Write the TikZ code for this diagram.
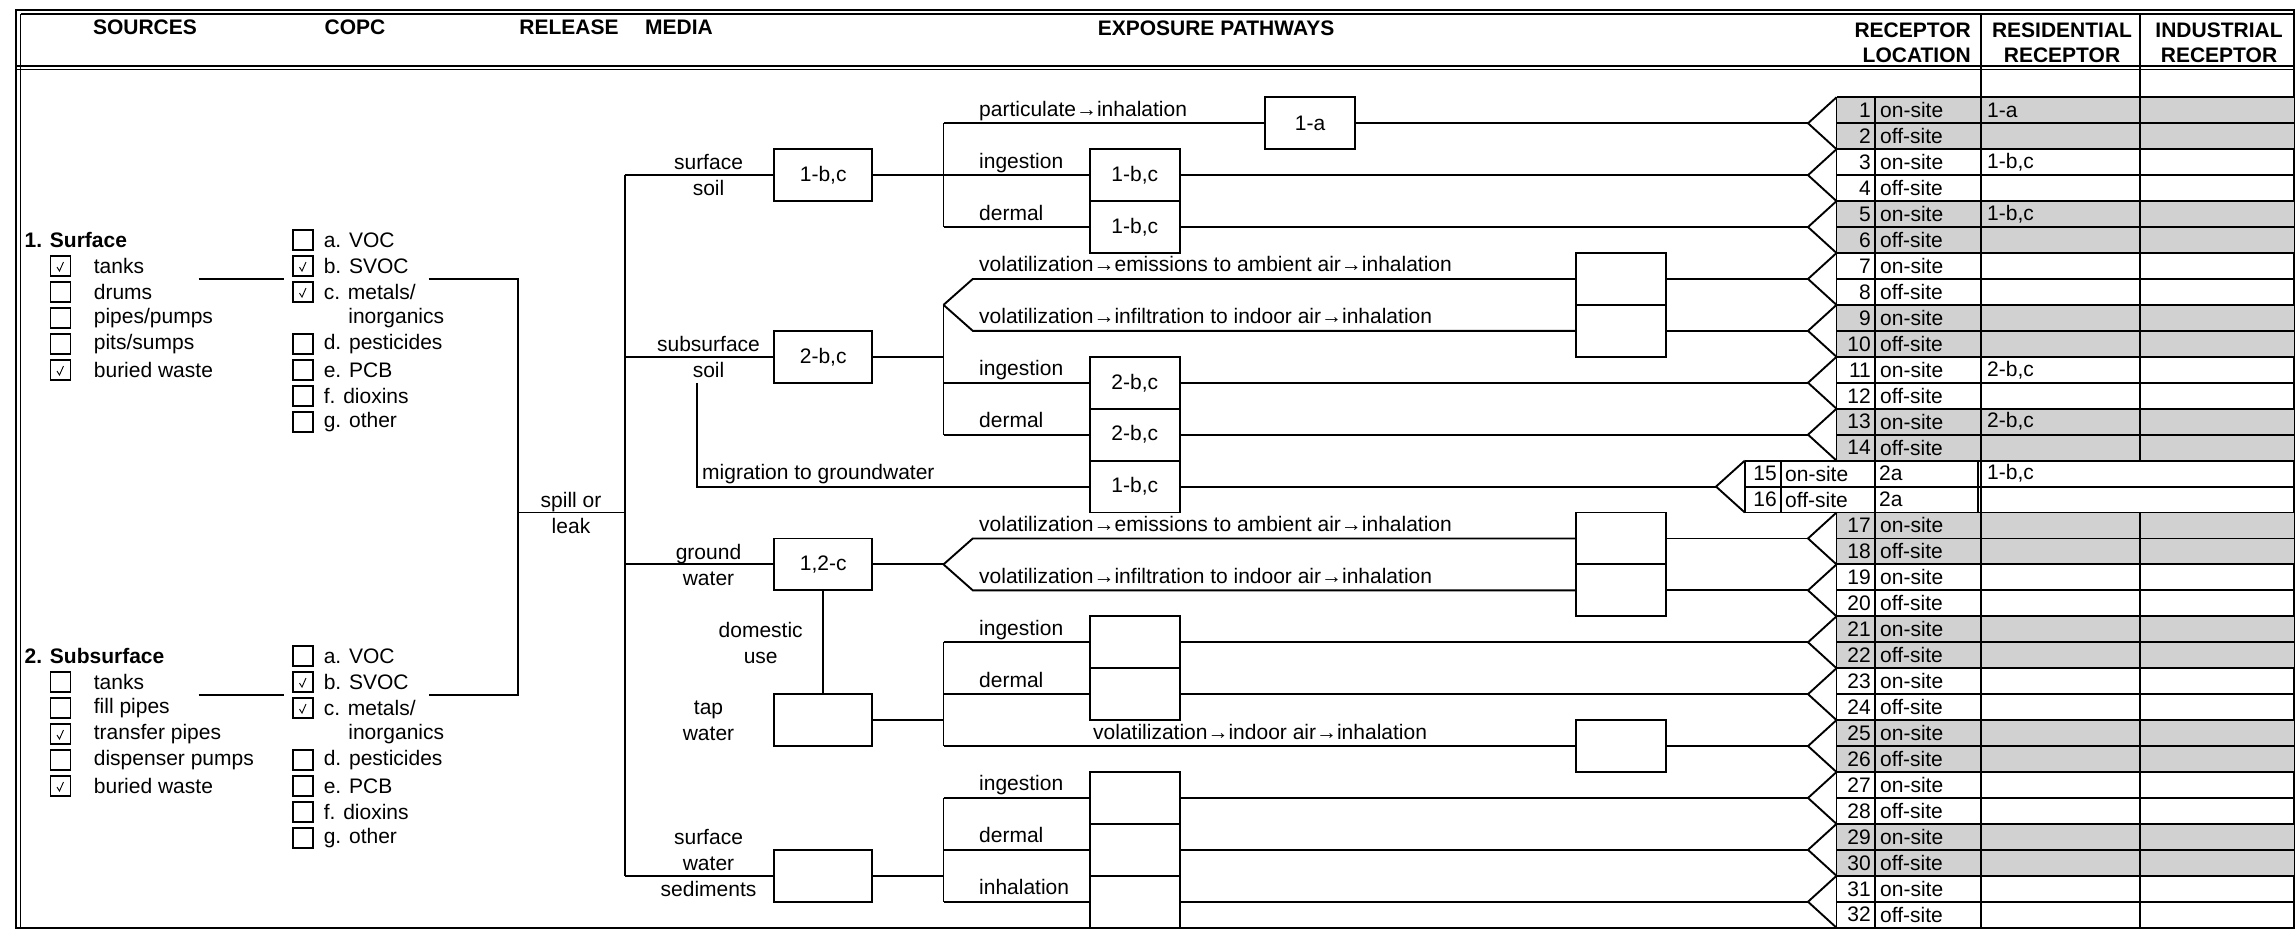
\documentclass[tikz,border=0pt]{standalone}
\usepackage{fontspec}
\setmainfont{Liberation Sans}
\usepackage{tikz}

\begin{document}
\begin{tikzpicture}[x=1pt, y=-1pt,
    font=\fontsize{21}{26}\selectfont,
    ln/.style={line width=1.9pt},
    frm/.style={line width=2pt},
    mbox/.style={draw, line width=1.9pt, minimum width=98pt, minimum height=51.9pt, inner sep=0pt},
    ebox/.style={draw, line width=1.9pt, minimum width=90pt, minimum height=51.9pt, inner sep=0pt},
    chk/.style={draw, line width=1.1pt, minimum size=20pt, inner sep=0pt},
    tick/.style={line width=0.9pt},
    txt/.style={inner sep=0pt, anchor=west},
    lbl/.style={inner sep=0pt, anchor=base west},
    mlbl/.style={inner sep=0pt, align=center},
    hdr/.style={font=\fontsize{21}{25}\selectfont\bfseries, inner sep=0pt, align=center}]

    % Высота строки и верх таблицы
    \def\rh{25.95}
    \def\tz{97.3}
    \def\yend{927.7}

    \useasboundingbox (0,0) rectangle (2296,930);

    % Рамка
    \draw[frm] (15.5,10) rectangle (2294,\yend);
    \draw[line width=1.1pt] (20.5,14) -- (2294,14);
    \draw[line width=1.1pt] (20.5,14) -- (20.5,\yend);
    \draw[frm] (15.5,65.5) -- (2294,65.5);
    \draw[line width=1.1pt] (15.5,69.5) -- (2294,69.5);

    % Заголовки
    \node[hdr] (hsrc) at (145,27) {SOURCES};
    \node[hdr] (hcopc) at (355,27) {COPC};
    \node[hdr] (hrel) at (569,27) {RELEASE};
    \node[hdr] (hmed) at (679,27) {MEDIA};
    \node[hdr] (hexp) at (1216,28) {EXPOSURE PATHWAYS};
    \node[hdr, align=right, anchor=east] (hloc) at (1971,42.5) {RECEPTOR\\LOCATION};
    \node[hdr] (hres) at (2062,42.5) {RESIDENTIAL\\RECEPTOR};
    \node[hdr] (hind) at (2219,42.5) {INDUSTRIAL\\RECEPTOR};

    % Серые строки
    \foreach \k in {1,3,...,15} {
        \pgfmathsetmacro\ya{\tz+(2*\k-2)*\rh}
        \pgfmathsetmacro\yb{\ya+2*\rh}
        \fill[black!18] (1836.5,\ya) rectangle (2294,\yb);
    }

    % Горизонтали таблицы
    \foreach \i in {0,...,32} {
        \pgfmathsetmacro\yy{\tz+\i*\rh}
        \coordinate (h\i) at (1836.5,\yy);
        \ifnum\i<14\relax
            \draw[ln] (1836.5,\yy) -- (2294,\yy);
        \else\ifnum\i<17\relax
            \draw[ln] (1744.8,\yy) -- (2294,\yy);
        \else\ifnum\i<32\relax
            \draw[ln] (1836.5,\yy) -- (2294,\yy);
        \fi\fi\fi
    }

    % Вертикали таблицы
    \draw[ln] (1836.5,\tz) -- (h14) (h16) -- (1836.5,\yend);
    \draw[ln] (1874.8,\tz) -- (1874.8,\yend);
    \draw[ln] (1981.3,14) -- (1981.3,\yend);
    \draw[ln] (1977.8,0 |- h14) -- (1977.8,0 |- h16);
    \draw[ln] (2140,14) -- (2140,0 |- h14) (2140,0 |- h16) -- (2140,\yend);
    \draw[ln] (1744.8,0 |- h14) -- (1744.8,0 |- h16);
    \draw[ln] (1780.6,0 |- h14) -- (1780.6,0 |- h16);

    % Номера и места
    \foreach \r in {1,...,32} {
        \pgfmathsetmacro\yc{\tz+(\r-0.5)*\rh}
        \ifnum\r=15\relax \def\xn{1777}\def\xs{1785}
        \else\ifnum\r=16\relax \def\xn{1777}\def\xs{1785}
        \else \def\xn{1871}\def\xs{1880}\fi\fi
        \node[txt, anchor=east] (num\r) at (\xn,\yc) {\r};
        \ifodd\r\relax
            \node[txt] (loc\r) at (\xs,\yc) {on-site};
        \else
            \node[txt] (loc\r) at (\xs,\yc) {off-site};
        \fi
    }
    \node[txt] (gw15) at (1879,\tz+14.5*\rh) {2a};
    \node[txt] (gw16) at (1879,\tz+15.5*\rh) {2a};

    % Жилой рецептор
    \foreach \r/\v in {1/1-a, 3/{1-b,c}, 5/{1-b,c}, 11/{2-b,c}, 13/{2-b,c}, 15/{1-b,c}} {
        \pgfmathsetmacro\yc{\tz+(\r-0.5)*\rh}
        \node[txt] (res\r) at (1987,\yc) {\v};
    }

    % Уголки перед таблицей
    \foreach \k in {1,...,16} {
        \pgfmathsetmacro\py{\tz+(2*\k-1)*\rh}
        \pgfmathsetmacro\ya{\py-\rh}
        \pgfmathsetmacro\yb{\py+\rh}
        \ifnum\k=8\relax
            \coordinate (p\k) at (1716,\py);
            \draw[ln] (1744.8,\ya) -- (p\k) -- (1744.8,\yb);
        \else
            \coordinate (p\k) at (1808,\py);
            \draw[ln] (1836.5,\ya) -- (p\k) -- (1836.5,\yb);
        \fi
    }

    % Опорные абсциссы
    \coordinate (xs) at (517.8,0);
    \coordinate (vm) at (624.6,0);
    \coordinate (xg) at (696.9,0);
    \coordinate (xm) at (823.2,0);
    \coordinate (fx) at (943.5,0);
    \coordinate (dx) at (972.8,0);
    \coordinate (lx) at (979,0);
    \coordinate (xe) at (1134.8,0);
    \coordinate (xa) at (1310,0);
    \coordinate (xv) at (1621,0);

    % Источники
    \node[txt, font=\fontsize{21}{26}\selectfont\bfseries] (src1) at (24.5,240) {1. Surface};
    \foreach \n/\lb/\on in {1/tanks/1, 2/drums/0, 3/{pipes/pumps}/0, 4/{pits/sumps}/0, 5/buried waste/1} {
        \node[chk] (sa\n) at (60.5,240+26*\n) {};
        \node[txt] (sat\n) at (93.7,240+26*\n) {\lb};
        \ifnum\on=1\relax
            \draw[tick] ([shift={(-3.5,1)}]sa\n.center) -- ([shift={(-1,5)}]sa\n.center) -- ([shift={(3,-4)}]sa\n.center);
        \fi
    }
    \node[txt, font=\fontsize{21}{26}\selectfont\bfseries] (src2) at (24.5,656) {2. Subsurface};
    \foreach \n/\lb/\on in {1/tanks/0, 2/fill pipes/0, 3/transfer pipes/1, 4/dispenser pumps/0, 5/buried waste/1} {
        \node[chk] (sb\n) at (60.5,656+26*\n) {};
        \node[txt] (sbt\n) at (93.7,656+26*\n) {\lb};
        \ifnum\on=1\relax
            \draw[tick] ([shift={(-3.5,1)}]sb\n.center) -- ([shift={(-1,5)}]sb\n.center) -- ([shift={(3,-4)}]sb\n.center);
        \fi
    }

    % COPC
    \foreach \b/\y in {1/240, 2/656} {
        \foreach \n/\lb/\on in {0/a. VOC/0, 1/b. SVOC/1, 2/{c. metals/}/1, 4/d. pesticides/0, 5/e. PCB/0, 6/f. dioxins/0, 7/g. other/0} {
            \node[chk] (cb\b\n) at (303,\y+26*\n) {};
            \node[txt] (cbt\b\n) at (323.6,\y+26*\n) {\lb};
            \ifnum\on=1\relax
                \draw[tick] ([shift={(-3.5,1)}]cb\b\n.center) -- ([shift={(-1,5)}]cb\b\n.center) -- ([shift={(3,-4)}]cb\b\n.center);
            \fi
        }
        \node[txt] (cbt\b3) at (348.2,\y+78) {inorganics};
        \coordinate (s\b e) at (198.6,\y+38.7);
        \coordinate (c\b w) at (283.5,\y+38.7);
        \coordinate (c\b e) at (428.5,\y+38.7);
    }
    \draw[ln] (s1e) -- (c1w);
    \draw[ln] (s2e) -- (c2w);
    \draw[ln] (c1e) -- (xs |- c1e) -- (xs |- c2e) -- (c2e);

    % Выброс
    \node[mlbl] (spill) at (571,513) {spill or\\leak};
    \draw[ln] (xs |- h16) -- (vm |- h16);

    % Среды
    \node[mbox] (ms) at (xm |- p2) {1-b,c};
    \node[mbox] (mss) at (xm |- h10) {2-b,c};
    \node[mbox] (mgw) at (xm |- h18) {1,2-c};
    \node[mbox] (mtw) at (xm |- h24) {};
    \node[mbox] (msw) at (xm |- h30) {};
    \node[mlbl] (lms) at (708.5,174.5) {surface\\soil};
    \node[mlbl] (lmss) at (708.5,357) {subsurface\\soil};
    \node[mlbl] (lmgw) at (708.5,565) {ground\\water};
    \node[mlbl] (lmdu) at (760.7,643.3) {domestic\\use};
    \node[mlbl] (lmtw) at (708.5,720.8) {tap\\water};
    \node[mlbl] (lmsw) at (708.5,862.5) {surface\\water\\sediments};
    \draw[ln] (vm |- ms) -- (vm |- msw);
    \foreach \m in {ms,mss,mgw,msw}
        \draw[ln] (vm |- \m) -- (\m.west);
    \draw[ln] (mgw.south) -- (mtw.north);

    % Боксы путей воздействия
    \node[ebox] (b1a) at (xa |- p1) {1-a};
    \foreach \k/\v in {2/{1-b,c}, 3/{1-b,c}, 6/{2-b,c}, 7/{2-b,c}, 8/{1-b,c}, 11/{}, 12/{}, 14/{}, 15/{}, 16/{}}
        \node[ebox] (e\k) at (xe |- p\k) {\v};
    \foreach \k in {4,5,9,10,13}
        \node[ebox] (v\k) at (xv |- p\k) {};

    % Линии к таблице
    \draw[ln] (b1a.east) -- (p1);
    \foreach \k in {2,3,6,7,8,11,12,14,15,16}
        \draw[ln] (e\k.east) -- (p\k);
    \foreach \k in {4,5,9,10,13}
        \draw[ln] (v\k.east) -- (p\k);

    % Поверхностный грунт
    \draw[ln] (ms.east) -- (fx |- ms);
    \draw[ln] (fx |- p1) -- (fx |- p3);
    \draw[ln] (fx |- p1) -- (b1a.west);
    \foreach \k in {2,3}
        \draw[ln] (fx |- p\k) -- (e\k.west);

    % Подповерхностный грунт
    \draw[ln] (mss.east) -- (fx |- mss);
    \draw[ln] (fx |- h8) -- (fx |- p7);
    \draw[ln] (fx |- h8) -- (dx |- p4) -- (v4.west);
    \draw[ln] (fx |- h8) -- (dx |- p5) -- (v5.west);
    \foreach \k in {6,7}
        \draw[ln] (fx |- p\k) -- (e\k.west);
    \draw[ln] (xg |- p6) -- (xg |- p8) -- (e8.west);

    % Грунтовые воды
    \draw[ln] (mgw.east) -- (fx |- mgw);
    \draw[ln] (fx |- mgw) -- (dx |- p9) -- (v9.west);
    \draw[ln] (fx |- mgw) -- (dx |- p10) -- (v10.west);

    % Водопроводная вода
    \draw[ln] (mtw.east) -- (fx |- mtw);
    \draw[ln] (fx |- p11) -- (fx |- p13);
    \foreach \k in {11,12}
        \draw[ln] (fx |- p\k) -- (e\k.west);
    \draw[ln] (fx |- p13) -- (v13.west);

    % Поверхностные воды
    \draw[ln] (msw.east) -- (fx |- msw);
    \draw[ln] (fx |- p14) -- (fx |- p16);
    \foreach \k in {14,15,16}
        \draw[ln] (fx |- p\k) -- (e\k.west);

    % Подписи путей
    \node[lbl] (l1) at ([yshift=7pt]lx |- p1) {particulate→inhalation};
    \node[lbl] (l2) at ([yshift=7pt]lx |- p2) {ingestion};
    \node[lbl] (l3) at ([yshift=7pt]lx |- p3) {dermal};
    \node[lbl] (l4) at ([yshift=7pt]lx |- p4) {volatilization→emissions to ambient air→inhalation};
    \node[lbl] (l5) at ([yshift=7pt]lx |- p5) {volatilization→infiltration to indoor air→inhalation};
    \node[lbl] (l6) at ([yshift=7pt]lx |- p6) {ingestion};
    \node[lbl] (l7) at ([yshift=7pt]lx |- p7) {dermal};
    \node[lbl] (l8) at ([yshift=7pt]702,0 |- p8) {migration to groundwater};
    \node[lbl] (l9) at ([yshift=7pt]lx |- p9) {volatilization→emissions to ambient air→inhalation};
    \node[lbl] (l10) at ([yshift=7pt]lx |- p10) {volatilization→infiltration to indoor air→inhalation};
    \node[lbl] (l11) at ([yshift=7pt]lx |- p11) {ingestion};
    \node[lbl] (l12) at ([yshift=7pt]lx |- p12) {dermal};
    \node[lbl] (l13) at ([yshift=7pt]1093,0 |- p13) {volatilization→indoor air→inhalation};
    \node[lbl] (l14) at ([yshift=7pt]lx |- p14) {ingestion};
    \node[lbl] (l15) at ([yshift=7pt]lx |- p15) {dermal};
    \node[lbl] (l16) at ([yshift=7pt]lx |- p16) {inhalation};
\end{tikzpicture}
\end{document}
